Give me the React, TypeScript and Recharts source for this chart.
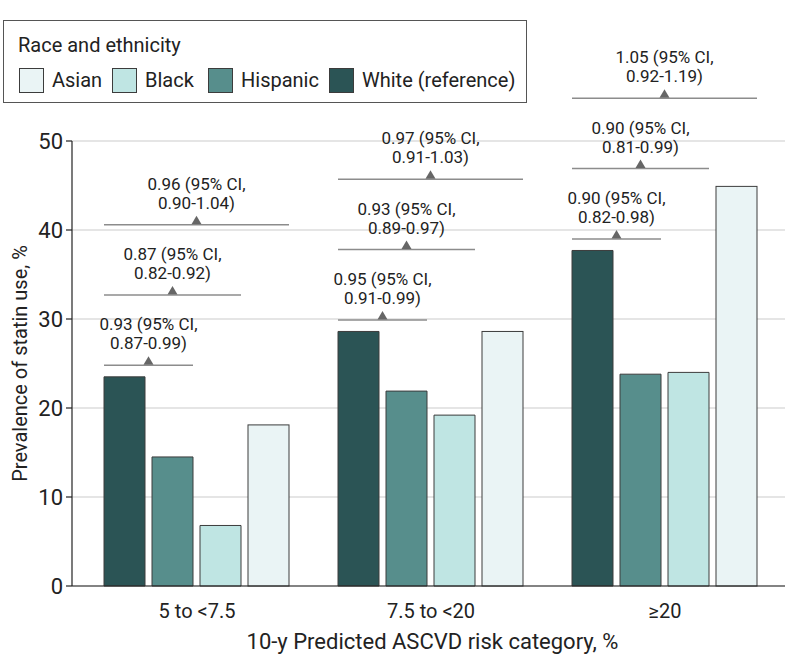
import React from "react";
import { BarChart, Bar, XAxis, YAxis, CartesianGrid } from "recharts";

const categories = ["5 to <7.5", "7.5 to <20", "≥20"];
const white = [23.5, 28.6, 37.7];
const hispanic = [14.5, 21.9, 23.8];
const black = [6.8, 19.2, 24.0];
const asian = [18.1, 28.6, 44.9];
const yTicks = [0, 10, 20, 30, 40, 50];

// bracket heights (in %), comparing White with Hispanic, Black, Asian
const bracketLevels = [
  [24.8, 32.7, 40.6],
  [29.9, 37.8, 45.7],
  [39.0, 46.9, 54.8],
];
const bracketLabels = [
  [["0.93 (95% CI,", "0.87-0.99)"], ["0.87 (95% CI,", "0.82-0.92)"], ["0.96 (95% CI,", "0.90-1.04)"]],
  [["0.95 (95% CI,", "0.91-0.99)"], ["0.93 (95% CI,", "0.89-0.97)"], ["0.97 (95% CI,", "0.91-1.03)"]],
  [["0.90 (95% CI,", "0.82-0.98)"], ["0.90 (95% CI,", "0.81-0.99)"], ["1.05 (95% CI,", "0.92-1.19)"]],
];

const data = categories.map((c, i) => ({
  category: c,
  white: white[i],
  hispanic: hispanic[i],
  black: black[i],
  asian: asian[i],
}));

const FONT = 'Roboto, "Liberation Sans", sans-serif';
const BAR_GAP = 7;
const OUTLINE = "#3c3c3c";

const colors = {
  white: "#2b5455",
  hispanic: "#578e8c",
  black: "#bfe5e3",
  asian: "#eaf4f5",
};

const legendItems = [
  { label: "Asian", color: colors.asian, left: 15 },
  { label: "Black", color: colors.black, left: 108 },
  { label: "Hispanic", color: colors.hispanic, left: 204 },
  { label: "White (reference)", color: colors.white, left: 325 },
];

// last series draws the brackets so they sit on top
function AsianBar(props: any) {
  const { x, y, width, height, index, fill } = props;
  const value = asian[index];
  const bottom = y + height;
  const ppu = height / value;
  const whiteLeft = x - 3 * (width + BAR_GAP);
  return (
    <g>
      <rect x={x} y={y} width={width} height={height} fill={fill} stroke={OUTLINE} strokeWidth={1} />
      {bracketLevels[index].map((lvl, k) => {
        const x1 = whiteLeft;
        const x2 = whiteLeft + (k + 2) * width + (k + 1) * BAR_GAP;
        const by = bottom - lvl * ppu;
        const cx = (x1 + x2) / 2;
        const [l1, l2] = bracketLabels[index][k];
        return (
          <g key={k}>
            <line x1={x1} x2={x2} y1={by} y2={by} stroke="#8c8c8c" strokeWidth={1.5} />
            <path d={`M${cx - 5},${by - 0.5} L${cx + 5},${by - 0.5} L${cx},${by - 9} Z`} fill="#666" />
            <text x={cx} y={by - 35} textAnchor="middle" fontFamily={FONT} fontSize={17} fill="#222">
              {l1}
            </text>
            <text x={cx} y={by - 16} textAnchor="middle" fontFamily={FONT} fontSize={17} fill="#222">
              {l2}
            </text>
          </g>
        );
      })}
    </g>
  );
}

function Legend() {
  return (
    <div
      style={{
        position: "absolute",
        left: 3,
        top: 20,
        width: 524,
        height: 83,
        border: "1.5px solid #555",
        background: "#fff",
        fontFamily: FONT,
        color: "#222",
        boxSizing: "border-box",
        whiteSpace: "nowrap",
      }}
    >
      <div style={{ position: "absolute", left: 14, top: 11, fontSize: 20, lineHeight: "26px" }}>Race and ethnicity</div>
      {legendItems.map((it) => (
        <div
          key={it.label}
          style={{ position: "absolute", left: it.left, top: 46, display: "flex", alignItems: "center" }}
        >
          <div
            style={{
              width: 23,
              height: 23,
              background: it.color,
              border: `1px solid ${OUTLINE}`,
              marginRight: 8,
            }}
          />
          <span style={{ fontSize: 20, lineHeight: "26px" }}>{it.label}</span>
        </div>
      ))}
    </div>
  );
}

export default function App() {
  return (
    <div style={{ position: "absolute", left: 0, top: 0, width: 794, height: 671, background: "#fff" }}>
      <BarChart
        width={794}
        height={671}
        data={data}
        margin={{ top: 141, right: 9, bottom: 25, left: 0 }}
        barGap={BAR_GAP}
        barCategoryGap={24}
      >
        <CartesianGrid vertical={false} stroke="#dcdcdc" strokeWidth={1.5} />
        <XAxis
          dataKey="category"
          padding={{ left: 8, right: 3 }}
          height={60}
          tickLine={false}
          tickMargin={12}
          axisLine={{ stroke: "#222", strokeWidth: 1.2 }}
          tick={{ fontFamily: FONT, fontSize: 20, fill: "#222" }}
          label={({ viewBox }: any) => (
            <text
              x={viewBox.x + viewBox.width / 2 + 4}
              y={viewBox.y + 63}
              textAnchor="middle"
              fontFamily={FONT}
              fontSize={22}
              fill="#222"
            >
              10-y Predicted ASCVD risk category, %
            </text>
          )}
        />
        <YAxis
          width={72}
          domain={[0, 50]}
          ticks={yTicks}
          interval={0}
          tickSize={6}
          tickMargin={3}
          axisLine={{ stroke: "#222", strokeWidth: 1.2 }}
          tickLine={{ stroke: "#222", strokeWidth: 1.2 }}
          tick={{ fontFamily: FONT, fontSize: 22, fill: "#222" }}
          label={({ viewBox }: any) => {
            const cx = viewBox.x + 20;
            const cy = viewBox.y + viewBox.height / 2;
            return (
              <text
                x={cx}
                y={cy}
                transform={`rotate(-90 ${cx} ${cy})`}
                textAnchor="middle"
                dominantBaseline="central"
                fontFamily={FONT}
                fontSize={20}
                fill="#222"
              >
                Prevalence of statin use, %
              </text>
            );
          }}
        />
        <Bar dataKey="white" fill={colors.white} stroke={OUTLINE} strokeWidth={1} isAnimationActive={false} />
        <Bar dataKey="hispanic" fill={colors.hispanic} stroke={OUTLINE} strokeWidth={1} isAnimationActive={false} />
        <Bar dataKey="black" fill={colors.black} stroke={OUTLINE} strokeWidth={1} isAnimationActive={false} />
        <Bar dataKey="asian" fill={colors.asian} shape={AsianBar} isAnimationActive={false} />
      </BarChart>
      <Legend />
    </div>
  );
}
